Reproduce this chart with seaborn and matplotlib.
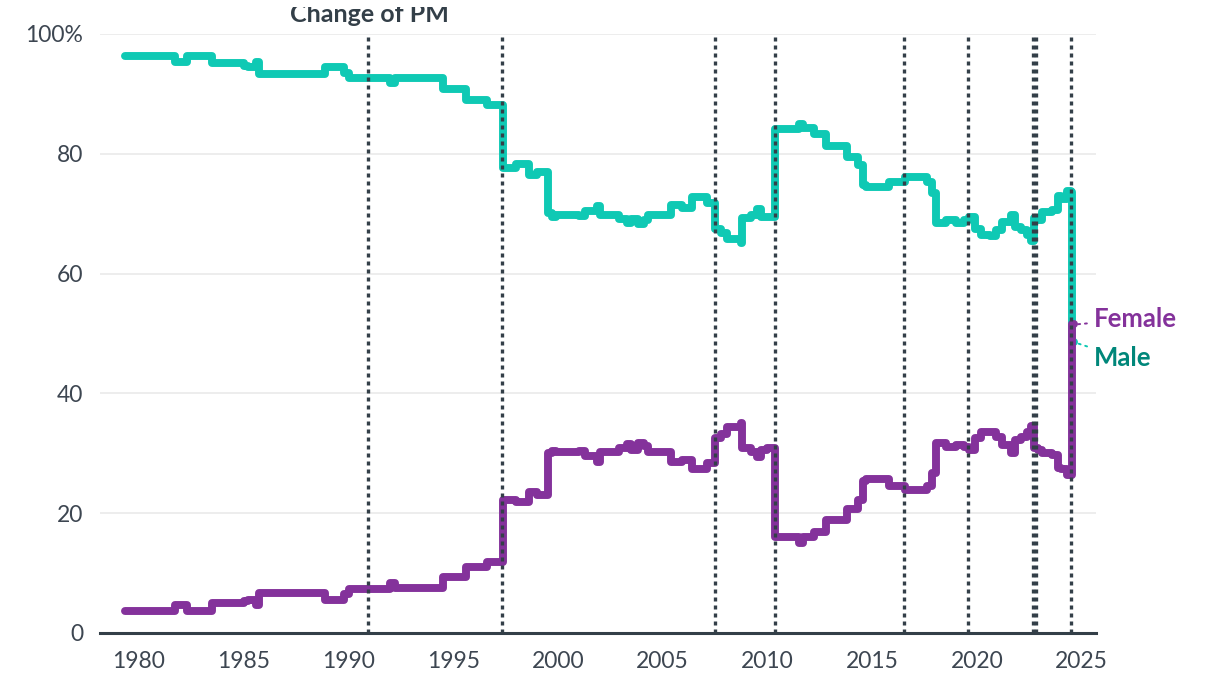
import pandas as pd
import matplotlib
matplotlib.use("Agg")
import matplotlib.pyplot as plt
from matplotlib.transforms import Bbox, TransformedBbox
import seaborn as sns

# ----------------------------------------------------------------------
# Data (decimal years, share of men / women in %)
# ----------------------------------------------------------------------
years = [
    1979.35, 1981.7, 1982.3, 1983.5, 1985.0, 1985.2, 1985.6, 1985.75,
    1988.9, 1989.8, 1990.0, 1992.0, 1992.2, 1994.5, 1995.6, 1996.6,
    1997.37, 1998.0, 1998.6, 1999.0, 1999.5, 1999.7, 1999.9, 2001.0,
    2001.3, 2001.85, 2002.0, 2002.9, 2003.3, 2003.5, 2003.8, 2004.1,
    2004.3, 2005.4, 2005.9, 2006.4, 2007.1, 2007.5, 2007.8, 2008.05,
    2008.75, 2008.8, 2009.2, 2009.5, 2009.7, 2010.0, 2010.38, 2011.5,
    2011.7, 2012.2, 2012.8, 2013.8, 2014.3, 2014.55, 2014.7, 2015.8,
    2016.55, 2017.6, 2017.85, 2018.05, 2018.5, 2019.0, 2019.4, 2019.6,
    2019.9, 2020.2, 2020.6, 2020.9, 2021.2, 2021.6, 2021.8, 2022.1,
    2022.4, 2022.6, 2022.7, 2022.9, 2023.1, 2023.6, 2023.85, 2024.0,
    2024.3, 2024.5, 2024.55, 2024.62,
]
male = [
    96.3, 95.4, 96.4, 95.1, 94.6, 94.5, 95.3, 93.4,
    94.5, 93.5, 92.6, 91.8, 92.6, 90.9, 89.0, 88.1,
    77.7, 78.3, 76.4, 76.9, 70.1, 69.5, 69.8, 69.6,
    70.4, 71.3, 69.8, 69.1, 68.4, 69.1, 68.3, 69.0,
    69.8, 71.5, 71.0, 72.8, 71.8, 67.5, 66.8, 65.7,
    65.1, 69.3, 69.8, 70.8, 69.5, 69.5, 84.2, 85.0,
    84.3, 83.3, 81.3, 79.5, 78.1, 74.8, 74.5, 75.3,
    76.2, 75.3, 73.5, 68.4, 68.9, 68.5, 69.0, 69.5,
    67.5, 66.4, 66.3, 67.3, 68.6, 69.8, 67.8, 67.3,
    66.5, 65.5, 69.3, 68.9, 70.2, 70.6, 73.0, 72.5,
    73.8, 73.7, 48.5, 48.5,
]
female = [
    3.7, 4.7, 3.6, 5.0, 5.4, 5.5, 4.7, 6.6,
    5.5, 6.5, 7.4, 8.3, 7.5, 9.3, 11.0, 11.9,
    22.2, 21.8, 23.6, 23.1, 30.0, 30.4, 30.2, 30.3,
    29.6, 28.6, 30.2, 30.9, 31.5, 30.5, 31.7, 31.2,
    30.2, 28.6, 28.8, 27.4, 28.4, 32.5, 33.2, 34.4,
    35.0, 30.9, 30.2, 29.4, 30.5, 30.9, 16.0, 15.1,
    16.0, 16.8, 18.9, 20.7, 22.2, 25.4, 25.7, 24.6,
    23.9, 24.5, 26.7, 31.7, 31.1, 31.3, 31.0, 30.5,
    32.5, 33.5, 33.6, 32.7, 31.4, 30.0, 32.2, 32.7,
    33.5, 34.6, 30.9, 30.5, 30.0, 29.7, 27.5, 27.3,
    26.4, 26.3, 51.5, 51.5,
]

# Dates of each change of Prime Minister
pm_changes = [1990.91, 1997.34, 2007.49, 2010.36, 2016.53, 2019.56,
              2022.68, 2022.82, 2024.51]

series_names = ["Male", "Female"]
line_colors = {"Male": "#0fc9b4", "Female": "#84329b"}
label_colors = {"Male": "#00877a", "Female": "#84329b"}
label_y = {"Female": 52.4, "Male": 45.9}

x_ticks = [1980, 1985, 1990, 1995, 2000, 2005, 2010, 2015, 2020, 2025]
y_ticks = [0, 20, 40, 60, 80, 100]
y_labels = ["0", "20", "40", "60", "80", "100%"]

df = pd.concat([
    pd.DataFrame({"year": years, "share": male, "sex": "Male"}),
    pd.DataFrame({"year": years, "share": female, "sex": "Female"}),
])

# ----------------------------------------------------------------------
# Plot
# ----------------------------------------------------------------------
sns.set_theme(style="white")
plt.rcParams["font.family"] = ["Lato", "DejaVu Sans"]

fig = plt.figure(figsize=(12.2, 6.84), dpi=100)
ax = fig.add_axes([0.082, 0.0746, 0.816, 0.8757])

dark = "#333f48"

ax.set_xlim(1978.14, 2025.66)
ax.set_ylim(0, 100)

for y in y_ticks[1:]:
    ax.axhline(y, color="#ececec", lw=1.3, zorder=0)

sns.lineplot(
    data=df, x="year", y="share", hue="sex", hue_order=series_names,
    palette=line_colors, estimator=None, sort=True, legend=False,
    drawstyle="steps-post", lw=5.7, ax=ax,
    solid_capstyle="round", solid_joinstyle="round", zorder=3,
)

for xv in pm_changes:
    ax.axvline(xv, color=dark, lw=2.4, ls=(0, (1.2, 1.2)), zorder=4)

# end labels with small dotted leaders
end_x = years[-1]
for name, vals in (("Female", female), ("Male", male)):
    ax.annotate(
        name, xy=(end_x + 0.05, vals[-1]), xytext=(2025.6, label_y[name]),
        ha="left", va="center", fontsize=18.5, fontweight="bold",
        color=label_colors[name],
        arrowprops=dict(arrowstyle="-", color=line_colors[name], lw=1.4,
                        ls=(0, (1, 2.5)), shrinkA=3, shrinkB=2),
    )

ax.set_xticks(x_ticks)
ax.set_yticks(y_ticks)
ax.set_yticklabels(y_labels)
ax.tick_params(axis="both", length=0, labelsize=16.5, labelcolor="#3d4651")
ax.tick_params(axis="x", pad=13)
ax.tick_params(axis="y", pad=12)
ax.set_xlabel("")
ax.set_ylabel("")

for side in ("top", "right", "left"):
    ax.spines[side].set_visible(False)
ax.spines["bottom"].set_color(dark)
ax.spines["bottom"].set_linewidth(2.2)
ax.spines["bottom"].set_zorder(5)

# title sitting above the first PM line, its top cut off as in the source
title = fig.text(369 / 1220, 1 - 22 / 684, "Change of PM", ha="center",
                 va="baseline", fontsize=18, fontweight="bold", color=dark)
title.set_clip_box(TransformedBbox(Bbox([[0, 0], [1, 1 - 7 / 684]]),
                                   fig.transFigure))
title.set_clip_on(True)

plt.savefig("out.png", dpi=100)
